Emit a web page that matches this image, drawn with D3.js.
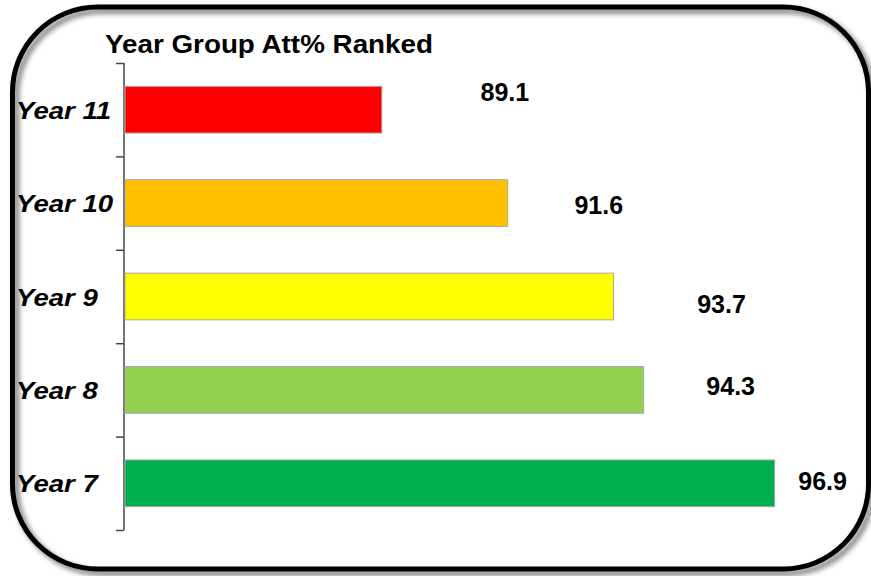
<!DOCTYPE html>
<html lang="en">
<head>
    <meta charset="utf-8">
    <title>Year Group Att% Ranked</title>
    <script src="https://d3js.org/d3.v7.min.js"></script>
    <style>
        body { margin: 0; background: #fff; }
        text { font-family: "Liberation Sans", Arial, sans-serif; }
    </style>
</head>
<body>
<svg width="871" height="576"></svg>
<script>
    // data, top to bottom as drawn
    var years = ["Year 11", "Year 10", "Year 9", "Year 8", "Year 7"];
    var attendance = [89.1, 91.6, 93.7, 94.3, 96.9];
    var barColors = ["#ff0000", "#ffc000", "#ffff00", "#92d050", "#00b050"];

    // hand placed labels in the original, nudged from bar end [dx, dy]
    var labelNudge = [[123, -18], [91, 2], [108, 7], [87, -4], [48, -2]];

    var svg = d3.select("svg");

    // rounded frame with a soft drop shadow
    var defs = svg.append("defs");
    defs.append("filter").attr("id", "blur")
        .attr("x", "-5%").attr("y", "-5%").attr("width", "110%").attr("height", "110%")
        .append("feGaussianBlur").attr("stdDeviation", 2.5);

    svg.append("rect")
        .attr("x", 16.5).attr("y", 11).attr("width", 856).attr("height", 562)
        .attr("rx", 85).attr("ry", 85)
        .attr("fill", "none").attr("stroke", "#8a8a8a").attr("stroke-width", 6)
        .attr("filter", "url(#blur)");
    svg.append("rect")
        .attr("x", 12.5).attr("y", 7).attr("width", 856).attr("height", 562)
        .attr("rx", 85).attr("ry", 85)
        .attr("fill", "none").attr("stroke", "#000").attr("stroke-width", 5);

    var x = d3.scaleLinear().domain([84, 98]).range([125, 830]);
    var y = d3.scaleBand().domain(years).range([63, 530])
        .paddingInner(0.5).paddingOuter(0.25);

    // title
    svg.append("text")
        .attr("x", 105).attr("y", 53)
        .attr("font-size", 25).attr("font-weight", "bold")
        .attr("textLength", 328).attr("lengthAdjust", "spacingAndGlyphs")
        .text("Year Group Att% Ranked");

    // vertical axis with ticks between the bars
    var tickScale = d3.scaleLinear().domain([0, years.length]).range([63, 530]);
    var axis = svg.append("g")
        .attr("transform", "translate(124,0)")
        .call(d3.axisLeft(tickScale).ticks(years.length).tickSize(8).tickFormat(""));
    axis.selectAll("path, line").attr("stroke", "#444").attr("stroke-width", 1.5);
    axis.select(".domain").attr("d", "M0,63V530");

    // bars
    svg.selectAll(".bar")
        .data(attendance)
        .enter()
        .append("rect")
        .attr("class", "bar")
        .attr("x", x(84))
        .attr("y", function(d, i) { return y(years[i]); })
        .attr("width", function(d) { return x(d) - x(84); })
        .attr("height", y.bandwidth())
        .attr("fill", function(d, i) { return barColors[i]; })
        .attr("stroke", "#a6a6a6")
        .attr("stroke-width", 1);

    // category labels, left aligned
    svg.selectAll(".cat")
        .data(years)
        .enter()
        .append("text")
        .attr("class", "cat")
        .attr("transform", function(d) {
            return "translate(16," + (y(d) + y.bandwidth() / 2 + 9) + ") scale(1.15,1)";
        })
        .attr("font-size", 24)
        .attr("font-weight", "bold")
        .attr("font-style", "italic")
        .text(function(d) { return d; });

    // value labels
    svg.selectAll(".val")
        .data(attendance)
        .enter()
        .append("text")
        .attr("class", "val")
        .attr("x", function(d, i) { return x(d) + labelNudge[i][0]; })
        .attr("y", function(d, i) { return y(years[i]) + y.bandwidth() / 2 + labelNudge[i][1] + 9; })
        .attr("text-anchor", "middle")
        .attr("font-size", 25)
        .attr("font-weight", "bold")
        .text(function(d) { return d.toFixed(1); });
</script>
</body>
</html>
